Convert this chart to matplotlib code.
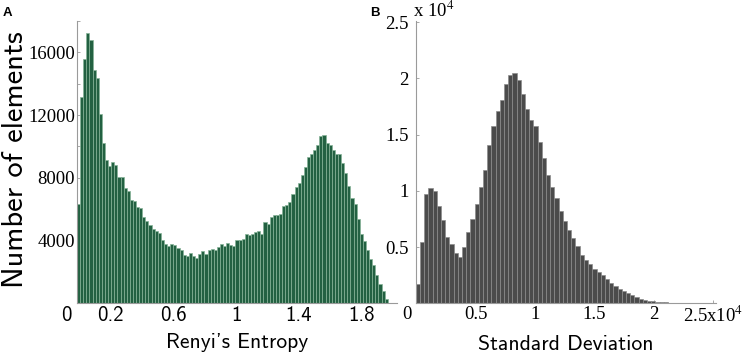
import numpy as np
import matplotlib.pyplot as plt

plt.rcParams['mathtext.fontset'] = 'stix'

# bar heights
renyi_counts = [6340, 13145, 15590, 17250, 16760, 14890, 14360, 12080, 10210, 9146,
                8742, 9040, 8827, 8083, 8040, 7338, 7190, 6615, 6509, 6168,
                6083, 5488, 5232, 5020, 4743, 4594, 4467, 4041, 3786, 3680,
                3780, 3743, 3552, 3382, 3063, 3020, 3233, 3041, 2893, 3148,
                3318, 3126, 3425, 3467, 3382, 3595, 3786, 3680, 3871, 3722,
                3658, 4020, 4020, 4105, 4403, 4382, 4403, 4552, 4594, 4445,
                5190, 5041, 5506, 5658, 5658, 5700, 6190, 6254, 6440, 6955,
                7440, 7678, 8168, 8680, 9338, 9550, 9763, 10082, 10656, 10763,
                10252, 10125, 9763, 9508, 9550, 8955, 8317, 7466, 6743, 6360,
                5400, 4445, 3977, 3424, 2850, 2425, 1787, 1255, 787, 298]
renyi_start = -0.014
renyi_width = 0.0198

sd_counts = [1690, 5476, 9680, 10212, 10005, 8673, 7400, 5920, 5269, 4440,
             4144, 5032, 6305, 7518, 8821, 10360, 11840, 14060, 15777, 17109,
             18056, 19536, 20335, 20483, 19891, 18648, 17316, 16280, 15806, 14356,
             12876, 11396, 10360, 9324, 8229, 7341, 6500, 5800, 5100, 4292,
             3848, 3493, 3049, 2753, 2516, 2131, 1776, 1569, 1273, 1125,
             888, 740, 533, 414, 296, 237, 178, 148, 100, 80,
             60, 45]
sd_start = -60
sd_width = 354

renyi_xticks = [0.2, 0.6, 1, 1.4, 1.8]
renyi_yticks = [4000, 8000, 12000, 16000]
sd_xticks = [5000, 10000, 15000, 20000, 25000]
sd_xlabels = ['0.5', '1', '1.5', '2', '2.5x10$^4$']
sd_yticks = [5000, 10000, 15000, 20000, 25000]
sd_ylabels = ['0.5', '1', '1.5', '2', '2.5']

serif = 'Liberation Serif'
sans = 'cmss10'
spine_col = '#9a9a9a'

fig = plt.figure(figsize=(7.43, 3.53), dpi=100)
ax1 = fig.add_axes([77 / 743, 49.7 / 353, 320 / 743, 282.3 / 353])
ax2 = fig.add_axes([415.5 / 743, 49.7 / 353, 300 / 743, 282.3 / 353])

# A: Renyi's entropy
left1 = renyi_start + renyi_width * np.arange(len(renyi_counts))
ax1.bar(left1, renyi_counts, width=renyi_width, align='edge',
        color='#236142', edgecolor='#86b498', linewidth=0.5)
ax1.set_xlim(-0.014, 2.025)
ax1.set_ylim(0, 18000)
ax1.set_xticks(renyi_xticks)
ax1.set_xticklabels([str(t) for t in renyi_xticks], family=sans, fontsize=15)
ax1.set_yticks(renyi_yticks)
ax1.set_yticks(range(2000, 18001, 4000), minor=True)
ax1.set_yticklabels([str(t) for t in renyi_yticks], family=serif, fontsize=13.5)
ax1.annotate('0', xy=(0, 0), xycoords=('data', 'axes fraction'),
             xytext=(-9, -2), textcoords='offset points',
             ha='center', va='top', family=sans, fontsize=15)
ax1.set_xlabel("Renyi's Entropy", family=sans, fontsize=15.5, labelpad=6)

# B: standard deviation
left2 = sd_start + sd_width * np.arange(len(sd_counts))
ax2.bar(left2, sd_counts, width=sd_width, align='edge',
        color='#4b4b4b', edgecolor='#8c8c8c', linewidth=0.5)
ax2.set_xlim(-76, 25180)
ax2.set_ylim(0, 25100)
ax2.set_xticks(sd_xticks)
ax2.set_xticklabels(sd_xlabels, family=serif, fontsize=13.5)
ax2.set_yticks(sd_yticks)
ax2.set_yticklabels(sd_ylabels, family=serif, fontsize=13.5)
ax2.annotate('0', xy=(0, 0), xycoords=('data', 'axes fraction'),
             xytext=(-6.5, -2), textcoords='offset points',
             ha='center', va='top', family=serif, fontsize=13.5)
ax2.set_xlabel('Standard Deviation', family=sans, fontsize=15.7, labelpad=6)

for ax in (ax1, ax2):
    ax.set_axisbelow(True)
    for s in ('top', 'right'):
        ax.spines[s].set_visible(False)
    for s in ('left', 'bottom'):
        ax.spines[s].set_color(spine_col)
        ax.spines[s].set_linewidth(0.8)
    ax.tick_params(which='both', direction='in', length=2.5, width=0.6,
                   color=spine_col)
    ax.tick_params(axis='x', pad=2)
ax1.tick_params(axis='y', pad=1.5)
ax2.tick_params(axis='y', pad=5)

fig.text(16 / 743, 1 - 160 / 353, 'Number of elements', rotation=90,
         ha='center', va='center', family=sans, fontsize=22)
fig.text(413 / 743, 1 - 1 / 353, 'x 10$^4$', ha='left', va='top',
         family=serif, fontsize=13.5)
fig.text(3 / 743, 1 - 7 / 353, 'A', ha='left', va='top',
         family='Liberation Sans', fontweight='bold', fontsize=9.5)
fig.text(370 / 743, 1 - 7 / 353, 'B', ha='left', va='top',
         family='Liberation Sans', fontweight='bold', fontsize=9.5)

fig.savefig('out.png', dpi=100)
